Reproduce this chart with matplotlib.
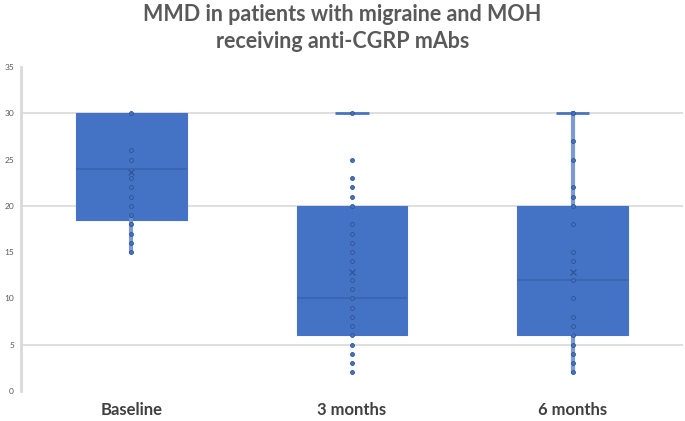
import matplotlib
matplotlib.use("Agg")
import matplotlib.pyplot as plt

categories = ["Baseline", "3 months", "6 months"]
q1 = [18.5, 6, 6]
medians = [24, 10, 12]
q3 = [30, 20, 20]
whislo = [15, 2, 2]
whishi = [30, 30, 30]
means = [23.7, 12.9, 12.9]
points_baseline = [15, 16, 17, 18, 19, 20, 21, 22, 23, 25, 26, 30]
points_3m = [2, 3, 4, 5, 6, 7, 8, 9, 10, 11, 12, 14, 15, 16, 17, 18, 20, 21, 22, 23, 25, 30]
points_6m = [2, 3, 4, 5, 6, 7, 8, 10, 12, 14, 15, 18, 20, 21, 22, 25, 27, 30]
yticks = [0, 5, 10, 15, 20, 25, 30, 35]
grid_levels = [5, 20, 30]
title = "MMD in patients with migraine and MOH\nreceiving anti-CGRP mAbs"

BLUE = "#4472C4"
DARK = "#2F5597"

plt.rcParams['font.family'] = ['Lato', 'DejaVu Sans']

fig = plt.figure(figsize=(6.85, 4.21), dpi=100)
ax = fig.add_axes([21/685, 30/421, 662/685, 324/421])
ax.set_xlim(0.5, 3.5)
ax.set_ylim(0, 35)

for g in grid_levels:
    ax.axhline(g, color="#d9d9d9", lw=1.2, zorder=0)

positions = [1, 2, 3]
stats = []
for i, c in enumerate(categories):
    stats.append(dict(label=c, q1=q1[i], med=medians[i], q3=q3[i],
                      whislo=whislo[i], whishi=whishi[i], mean=means[i], fliers=[]))

bp = ax.bxp(stats, positions=positions, widths=0.5, patch_artist=True,
            showmeans=False, showcaps=False,
            boxprops=dict(facecolor=BLUE, edgecolor=BLUE, lw=0.8),
            medianprops=dict(color="#3A64B0", lw=1.2),
            whiskerprops=dict(color="#6E8FCF", lw=3, alpha=0.9), zorder=2)
# whiskers of 3 months are not visible in the reference
for w in bp['whiskers'][2:4]:
    w.set_visible(False)

# caps at the top for 3 and 6 months
for i in [1, 2]:
    ax.hlines(whishi[i], positions[i] - 0.075, positions[i] + 0.075, color="#4A74C0", lw=2, zorder=3)

all_points = [points_baseline, points_3m, points_6m]
for p, pts in zip(positions, all_points):
    ax.scatter([p] * len(pts), pts, s=8, facecolor=BLUE, edgecolor=DARK, lw=0.6, zorder=4)

ax.scatter(positions, means, marker="x", s=18, color=DARK, lw=0.9, zorder=5)

for s in ["top", "right", "bottom"]:
    ax.spines[s].set_visible(False)
ax.spines["left"].set_color("#d9d9d9")
ax.spines["left"].set_linewidth(2)

ax.set_yticks(yticks)
ax.set_yticklabels([str(t) for t in yticks])
ax.tick_params(axis="y", length=0, labelsize=6, labelcolor="#595959", pad=5)
ax.set_xticks(positions)
ax.set_xticklabels(categories)
ax.tick_params(axis="x", length=0, labelsize=12, labelcolor="#404040", pad=8)
for lbl in ax.get_xticklabels():
    lbl.set_fontweight("bold")

fig.text(0.5, 1 - 28/421, title, ha="center", va="center", fontsize=15.5,
         fontweight="bold", color="#595959", linespacing=1.3)

fig.savefig("out.png", dpi=100)
